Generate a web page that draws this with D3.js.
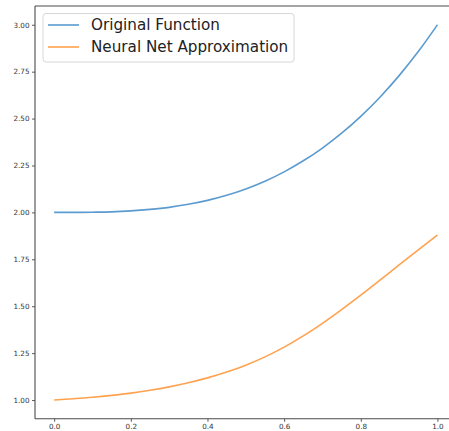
<!DOCTYPE html>
<html>
<head>
<meta charset="utf-8">
<script src="https://cdn.jsdelivr.net/npm/d3@7"></script>
<style>
  html, body { margin: 0; padding: 0; background: #fff; }
  svg { display: block; }
  text { font-family: "DejaVu Sans", sans-serif; }
</style>
</head>
<body>
<svg id="chart" width="449" height="431"></svg>
<script>
// ---- data ----
const xValues = [0, 0.05, 0.1, 0.15, 0.2, 0.25, 0.3, 0.35, 0.4, 0.45, 0.5,
                 0.55, 0.6, 0.65, 0.7, 0.75, 0.8, 0.85, 0.9, 0.95, 1.0];
const originalValues = [2.000, 2.000, 2.001, 2.003, 2.008, 2.016, 2.027, 2.043, 2.064, 2.091, 2.125,
                        2.166, 2.216, 2.275, 2.343, 2.422, 2.512, 2.614, 2.729, 2.857, 3.000];
const approxValues = [1.000, 1.007, 1.015, 1.025, 1.037, 1.052, 1.070, 1.092, 1.118, 1.149, 1.186,
                      1.230, 1.282, 1.342, 1.409, 1.482, 1.559, 1.639, 1.720, 1.800, 1.879];
const seriesNames = ["Original Function", "Neural Net Approximation"];
const seriesColors = ["#5b9bcf", "#ffa24f"];
const xTicks = [0.0, 0.2, 0.4, 0.6, 0.8, 1.0];
const yTicks = [1.00, 1.25, 1.50, 1.75, 2.00, 2.25, 2.50, 2.75, 3.00];

// ---- layout ----
const svg = d3.select("#chart");
const plotLeft = 35, plotRight = 456.6, plotTop = 6.0, plotBottom = 418.8;

const x = d3.scaleLinear().domain([-0.05, 1.05]).range([plotLeft, plotRight]);
const y = d3.scaleLinear().domain([0.9, 3.1]).range([plotBottom, plotTop]);

// spines (right spine falls outside the cropped picture)
const spineColor = "#4a4a4a";
const spines = [
  [plotLeft, plotTop, plotLeft, plotBottom],
  [plotLeft, plotBottom, plotRight, plotBottom],
  [plotLeft, plotTop, plotRight, plotTop]
];
spines.forEach(s => {
  svg.append("line").attr("x1", s[0]).attr("y1", s[1]).attr("x2", s[2]).attr("y2", s[3])
    .attr("stroke", spineColor).attr("stroke-width", 1.1);
});

// axes
const xAxis = d3.axisBottom(x).tickValues(xTicks).tickFormat(d3.format(".1f"))
  .tickSize(3).tickPadding(2.5).tickSizeOuter(0);
const yAxis = d3.axisLeft(y).tickValues(yTicks).tickFormat(d3.format(".2f"))
  .tickSize(3).tickPadding(2.5).tickSizeOuter(0);

const gx = svg.append("g").attr("transform", `translate(0,${plotBottom})`).call(xAxis);
const gy = svg.append("g").attr("transform", `translate(${plotLeft},0)`).call(yAxis);
[gx, gy].forEach(g => {
  g.select(".domain").remove();
  g.selectAll(".tick line").attr("stroke", spineColor).attr("stroke-width", 0.9);
  g.selectAll(".tick text").attr("fill", "#333").style("font-size", "7.2px")
    .style("font-family", "DejaVu Sans, sans-serif");
});

// lines
const line = d3.line().x((d, i) => x(xValues[i])).y(d => y(d)).curve(d3.curveMonotoneX);
[originalValues, approxValues].forEach((vals, k) => {
  svg.append("path").datum(vals)
    .attr("fill", "none")
    .attr("stroke", seriesColors[k])
    .attr("stroke-width", 1.6)
    .attr("stroke-linejoin", "round")
    .attr("d", line);
});

// legend
const lg = svg.append("g");
lg.append("rect")
  .attr("x", 43).attr("y", 13.5).attr("width", 251).attr("height", 48.5)
  .attr("rx", 3).attr("fill", "#fff").attr("fill-opacity", 0.85)
  .attr("stroke", "#d8d8d8").attr("stroke-width", 1);
seriesNames.forEach((name, k) => {
  const cy = 25 + k * 22;
  lg.append("line").attr("x1", 48).attr("x2", 79).attr("y1", cy).attr("y2", cy)
    .attr("stroke", seriesColors[k]).attr("stroke-width", 1.6);
  lg.append("text").attr("x", 91).attr("y", cy).attr("dy", "0.35em")
    .attr("fill", "#222").style("font-size", "15.2px").text(name);
});
</script>
</body>
</html>
